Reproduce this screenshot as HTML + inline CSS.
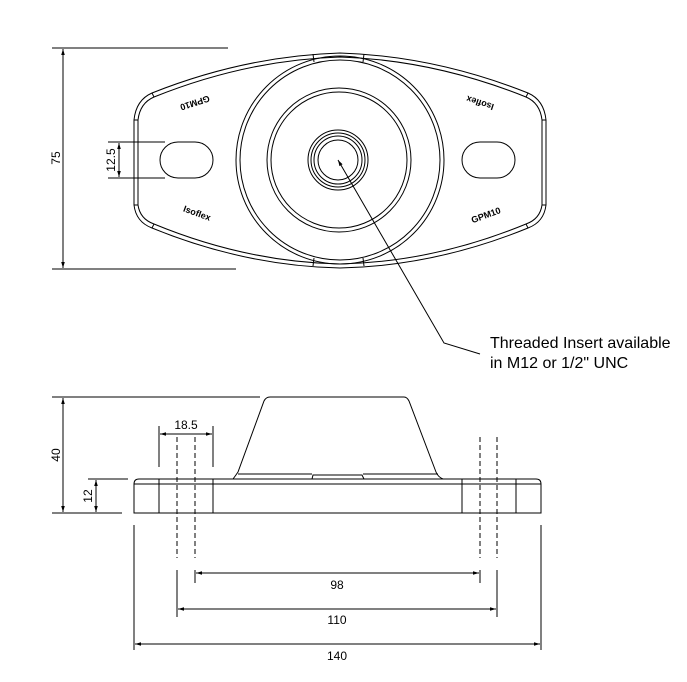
<!DOCTYPE html>
<html><head><meta charset="utf-8"><style>
html,body{margin:0;padding:0;background:#fff;}
svg{display:block;}
text{font-family:"Liberation Sans",Arial,sans-serif;fill:#000;}
</style></head><body>
<svg width="687" height="682" viewBox="0 0 687 682" xmlns="http://www.w3.org/2000/svg">
<defs>
<marker id="a" viewBox="0 0 10 10" refX="10" refY="5" markerWidth="9" markerHeight="6" orient="auto-start-reverse" markerUnits="userSpaceOnUse"><path d="M0,2 L10,5 L0,8 Z" fill="#000"/></marker>
</defs>
<g fill="none" stroke="#000" stroke-width="1">
<line x1="52" y1="48" x2="228" y2="48"/>
<line x1="52" y1="269" x2="236" y2="269"/>
<line x1="63" y1="49" x2="63" y2="268" marker-start="url(#a)" marker-end="url(#a)"/>
<line x1="108" y1="142" x2="165" y2="142"/>
<line x1="108" y1="178" x2="165" y2="178"/>
<line x1="119" y1="143" x2="119" y2="177" marker-start="url(#a)" marker-end="url(#a)"/>
<path d="M134,120 Q136,100 152,93 Q245,56 340,53 Q435,56 528,93 Q544,100 546,120 L546,205 Q544,222 528,228 Q435,266 340,268 Q245,266 152,228 Q136,222 134,205 Z"/>
<path d="M138,120 Q140,103 154,97 Q246,60 340,57 Q434,60 526,97 Q540,103 542,120 L542,205 Q540,219 526,224 Q434,262 340,264 Q246,262 154,224 Q140,219 138,205 Z"/>
<line x1="134" y1="120" x2="138" y2="120"/><line x1="542" y1="120" x2="546" y2="120"/>
<line x1="134" y1="205" x2="138" y2="205"/><line x1="542" y1="205" x2="546" y2="205"/>
<line x1="152" y1="93" x2="154" y2="97"/><line x1="528" y1="93" x2="526" y2="97"/>
<line x1="152" y1="228" x2="154" y2="224"/><line x1="528" y1="228" x2="526" y2="224"/>
<circle cx="340" cy="160" r="104"/>
<circle cx="340" cy="160" r="100"/>
<line x1="313" y1="54" x2="314" y2="62"/><line x1="364" y1="54" x2="363" y2="62"/>
<line x1="313" y1="266" x2="314" y2="258"/><line x1="364" y1="266" x2="363" y2="258"/>
<circle cx="339" cy="160" r="72"/>
<circle cx="339" cy="160" r="68"/>
<circle cx="338" cy="160" r="30"/>
<circle cx="338" cy="160" r="27"/>
<circle cx="338" cy="160" r="24"/>
<circle cx="338" cy="160" r="20"/>
<rect x="160" y="142" width="53" height="36" rx="18"/>
<rect x="462" y="142" width="53" height="36" rx="18"/>
<polyline points="338,160 444,343 480,354" marker-start="url(#a)"/>
<line x1="52" y1="397" x2="260" y2="397"/>
<line x1="63" y1="398" x2="63" y2="512" marker-start="url(#a)" marker-end="url(#a)"/>
<line x1="88" y1="479" x2="128" y2="479"/>
<line x1="52" y1="513" x2="122" y2="513"/>
<line x1="96" y1="480" x2="96" y2="512" marker-start="url(#a)" marker-end="url(#a)"/>
<path d="M134,513 L134,484 Q134,479 139,479 L536,479 Q541,479 541,484 L541,513 Z"/>
<line x1="134" y1="484" x2="541" y2="484"/>
<line x1="159" y1="479" x2="159" y2="513"/><line x1="213" y1="479" x2="213" y2="513"/>
<line x1="462" y1="479" x2="462" y2="513"/><line x1="516" y1="479" x2="516" y2="513"/>
<path d="M233,479 Q236,475 238,472 L264,401 Q266,397 270,397 L404,397 Q407,397 409,401 L436,472 Q438,477 443,479"/>
<line x1="238" y1="474" x2="312" y2="474"/><line x1="363" y1="474" x2="438" y2="474"/>
<path d="M312,479 L313,475 L362,475 L364,479"/>
<g stroke-dasharray="5,3">
<line x1="177" y1="437" x2="177" y2="558"/><line x1="195" y1="437" x2="195" y2="558"/>
<line x1="480" y1="437" x2="480" y2="558"/><line x1="497" y1="437" x2="497" y2="558"/>
</g>
<line x1="159" y1="426" x2="159" y2="467"/><line x1="213" y1="426" x2="213" y2="467"/>
<line x1="160" y1="434" x2="212" y2="434" marker-start="url(#a)" marker-end="url(#a)"/>
<line x1="134" y1="525" x2="134" y2="650"/><line x1="541" y1="525" x2="541" y2="650"/>
<line x1="177" y1="570" x2="177" y2="617"/><line x1="195" y1="570" x2="195" y2="583"/>
<line x1="480" y1="570" x2="480" y2="583"/><line x1="497" y1="570" x2="497" y2="617"/>
<line x1="196" y1="573" x2="479" y2="573" marker-start="url(#a)" marker-end="url(#a)"/>
<line x1="178" y1="609" x2="496" y2="609" marker-start="url(#a)" marker-end="url(#a)"/>
<line x1="135" y1="644" x2="540" y2="644" marker-start="url(#a)" marker-end="url(#a)"/>
</g>
<text x="60" y="158" font-size="12" text-anchor="middle" transform="rotate(-90 60 158)">75</text>
<text x="115" y="160" font-size="12" text-anchor="middle" transform="rotate(-90 115 160)">12.5</text>
<text x="60" y="455" font-size="12" text-anchor="middle" transform="rotate(-90 60 455)">40</text>
<text x="92" y="496" font-size="12" text-anchor="middle" transform="rotate(-90 92 496)">12</text>
<text x="186" y="429" font-size="12" text-anchor="middle">18.5</text>
<text x="337" y="589" font-size="12" text-anchor="middle">98</text>
<text x="337" y="624" font-size="12" text-anchor="middle">110</text>
<text x="337" y="660" font-size="12" text-anchor="middle">140</text>
<text x="490" y="348" font-size="16">Threaded Insert available</text>
<text x="490" y="368" font-size="16">in M12 or 1/2" UNC</text>
<g font-size="9" font-weight="bold" text-anchor="middle">
<text transform="translate(194,100) rotate(162)">GPM10</text>
<text transform="translate(481,100) rotate(198)">Isoflex</text>
<text transform="translate(196,216) rotate(20)">Isoflex</text>
<text transform="translate(487,218) rotate(-20)">GPM10</text>
</g>
</svg>
</body></html>
